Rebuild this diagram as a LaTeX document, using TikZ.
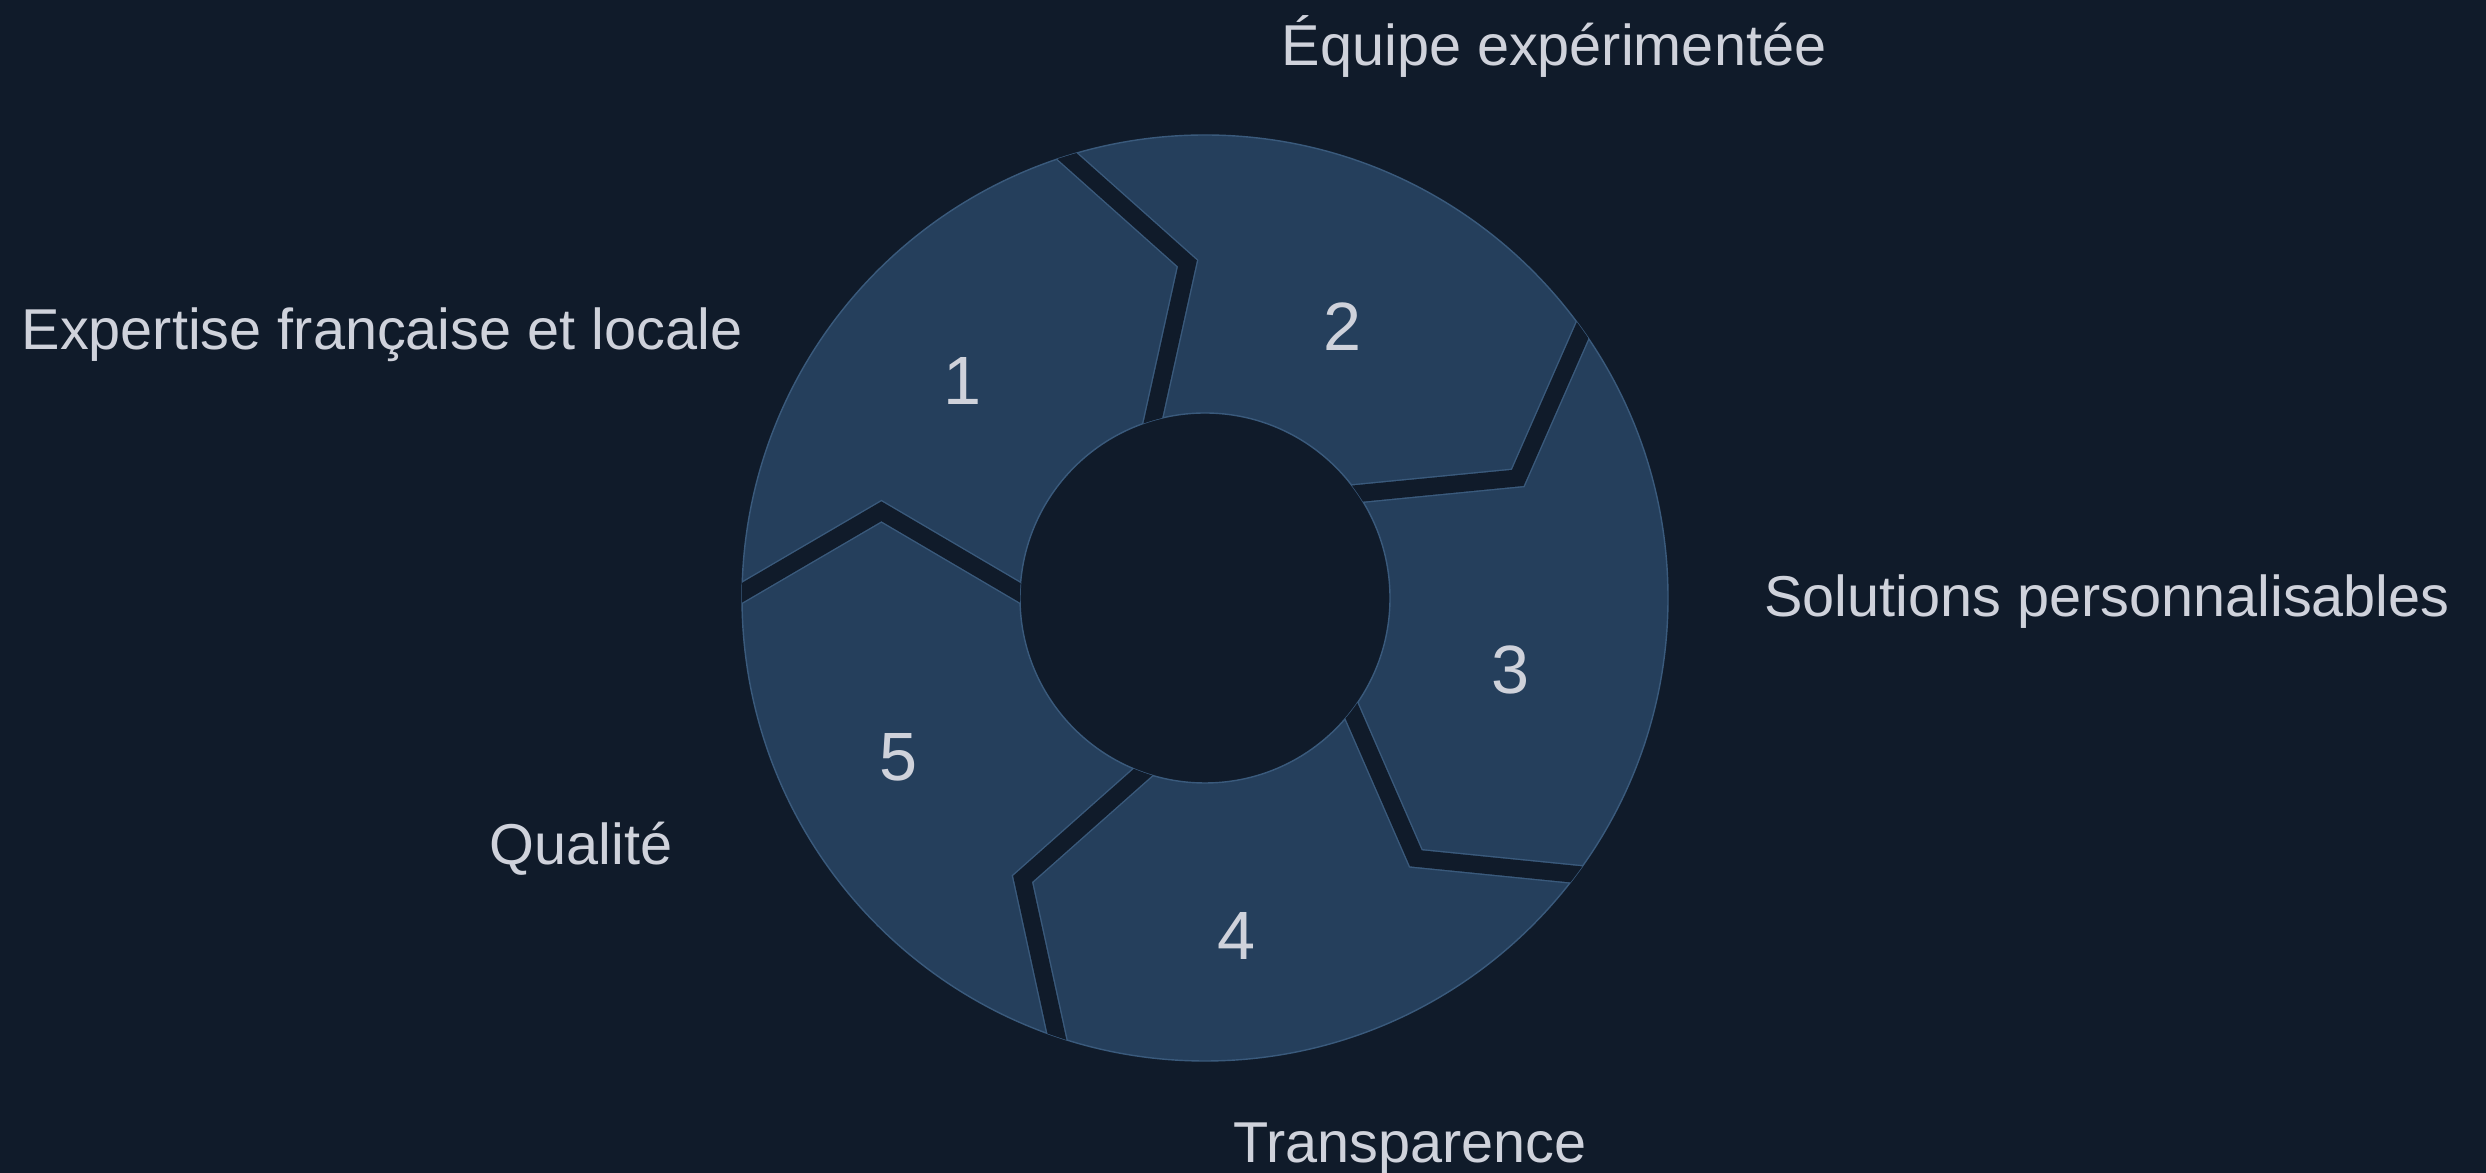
\documentclass[tikz,border=0pt]{standalone}
\usepackage{fontspec}
\setmainfont{Liberation Sans}
\usetikzlibrary{positioning}
\definecolor{bgcol}{HTML}{101B2A}
\definecolor{segcol}{HTML}{253F5C}
\definecolor{edgecol}{HTML}{3A5A7C}
\definecolor{txtcol}{HTML}{CFD2DB}
\tikzstyle{num}=[text=txtcol, font=\fontsize{38.9}{46}\selectfont]
\tikzstyle{lbl}=[text=txtcol, anchor=base, font=\fontsize{32.8}{40}\selectfont]
\tikzstyle{gapline}=[draw=edgecol, line width=0.8pt, double=bgcol, double distance=0.34cm, line join=miter]

\begin{document}
\begin{tikzpicture}[x=0.02cm, y=0.02cm]
    \fill[bgcol] (0,0) rectangle (2486,1173);
    \useasboundingbox (0,0) rectangle (2486,1173);
    \coordinate (c) at (1205,575);
    % ring
    \path[fill=segcol, draw=edgecol, line width=0.8pt, even odd rule] (c) circle (463) (c) circle (185);
    % cuts between the arrows
    \begin{scope}[even odd rule]
        \clip (c) circle (463) (c) circle (185);
        \foreach \b in {36,108,180,252,324}
            \draw[gapline, shift={(c)}] (\b:472) -- (\b-15:335) -- (\b:176);
    \end{scope}
    \node[num] (n1) at (962,792) {1};
    \node[num] (n2) at (1342,846) {2};
    \node[num] (n3) at (1510,503) {3};
    \node[num] (n4) at (1236,237) {4};
    \node[num] (n5) at (898,416) {5};
    \node[lbl] (equipe) at (1554,1107) {Équipe expérimentée};
    \node[lbl] (expertise) at (382,823) {Expertise française et locale};
    \node[lbl] (solutions) at (2107,556) {Solutions personnalisables};
    \node[lbl] (qualite) at (581,308) {Qualité};
    \node[lbl] (transp) at (1410,10) {Transparence};
\end{tikzpicture}
\end{document}
